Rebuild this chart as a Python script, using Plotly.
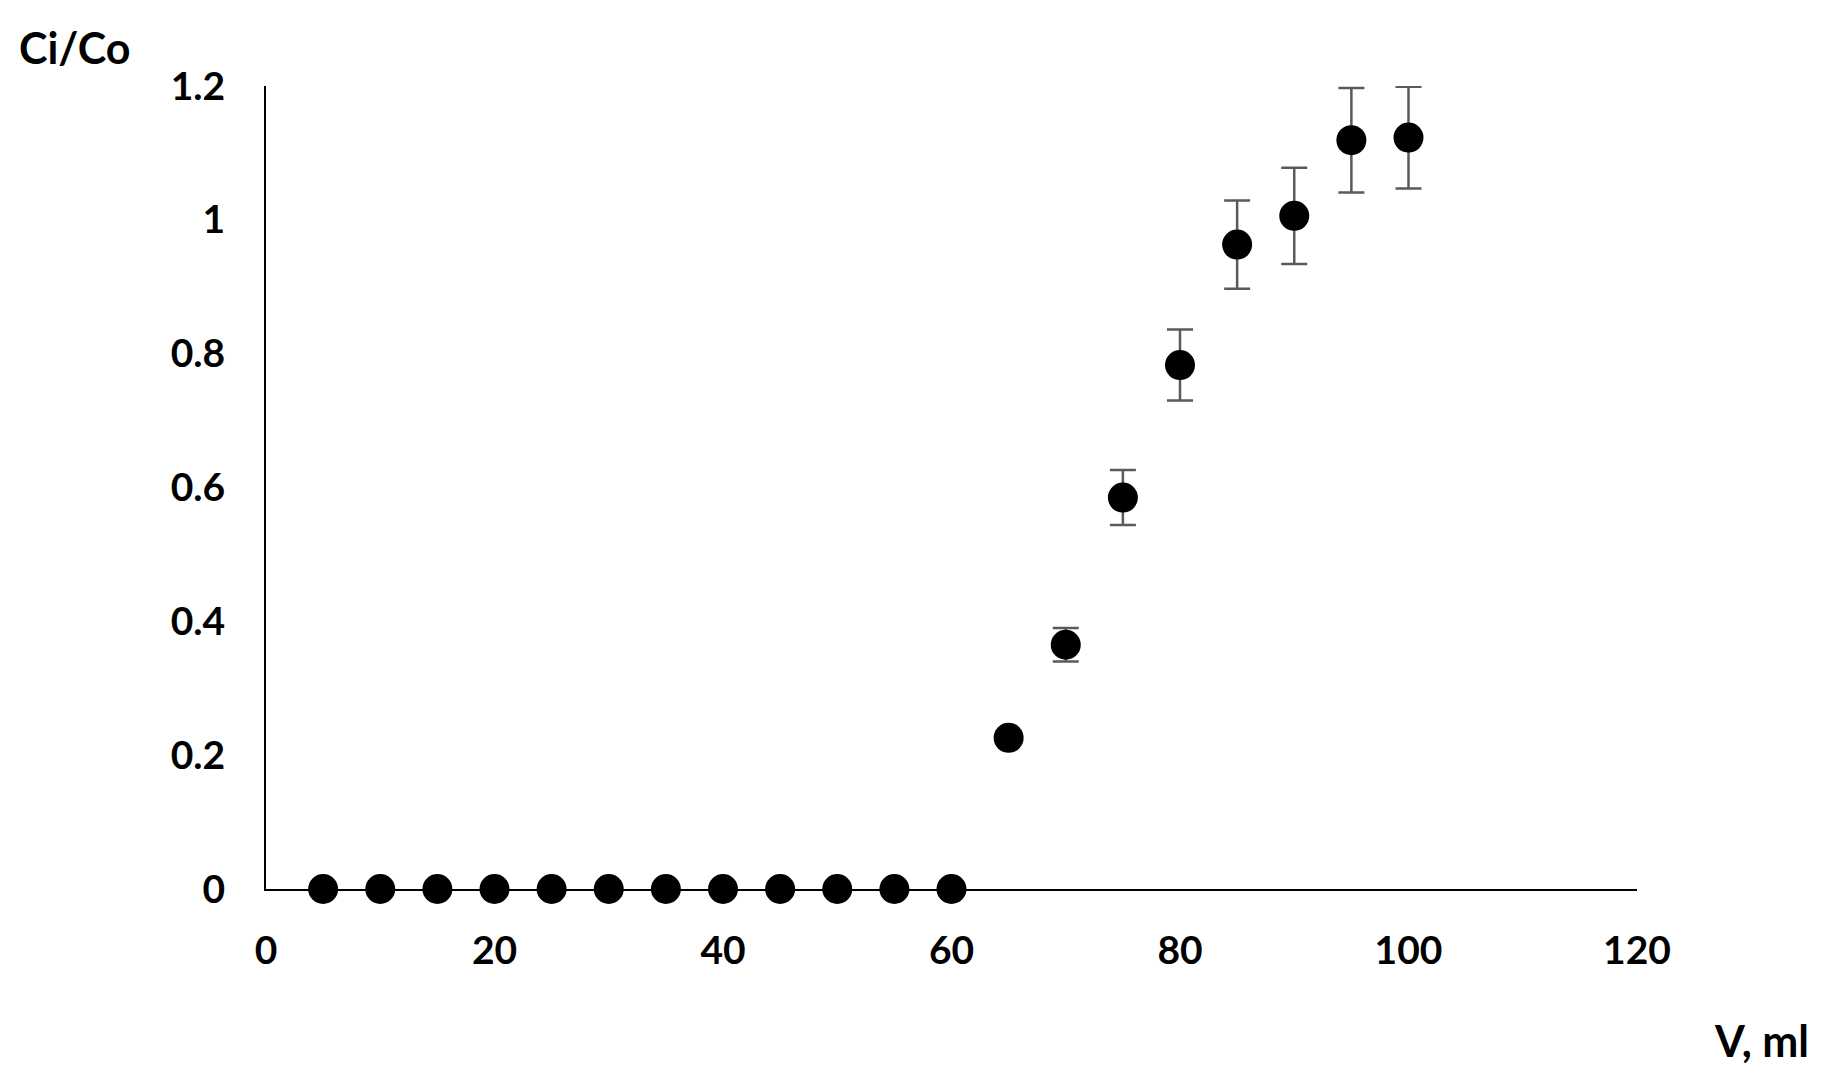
import plotly.graph_objects as go

volume_ml = [5, 10, 15, 20, 25, 30, 35, 40, 45, 50, 55, 60, 65, 70, 75, 80, 85, 90, 95, 100]
ci_co = [0, 0, 0, 0, 0, 0, 0, 0, 0, 0, 0, 0, 0.226, 0.365, 0.585, 0.783, 0.963, 1.006, 1.119, 1.123]
ci_co_err = [0, 0, 0, 0, 0, 0, 0, 0, 0, 0, 0, 0, 0.008, 0.025, 0.041, 0.053, 0.066, 0.072, 0.078, 0.076]

x_ticks = [0, 20, 40, 60, 80, 100, 120]
y_ticks = [0, 0.2, 0.4, 0.6, 0.8, 1.0, 1.2]
y_tick_text = ["0", "0.2", "0.4", "0.6", "0.8", "1", "1.2"]

font_family = "Lato, 'Open Sans', sans-serif"
FS = 39
FS_TITLE = 43

# page body has an 8px default margin
L, R, T, B = 258, 199, 78, 194
PW = 1828 - L - R
PH = 1075 - T - B

fig = go.Figure()
fig.add_trace(go.Scatter(
    x=volume_ml,
    y=ci_co,
    mode="markers",
    marker=dict(color="black", size=30),
    error_y=dict(type="data", array=ci_co_err, visible=True,
                 color="#5a5a5a", thickness=2.5, width=13),
    cliponaxis=False,
    showlegend=False,
))

fig.update_layout(
    width=1828,
    height=1075,
    paper_bgcolor="white",
    plot_bgcolor="white",
    margin=dict(l=L, r=R, t=T, b=B),
    font=dict(family=font_family, size=FS, color="black"),
    xaxis=dict(
        range=[0, 120],
        tickvals=x_ticks,
        ticktext=[str(v) for v in x_ticks],
        showgrid=False,
        zeroline=False,
        showline=True,
        linecolor="black",
        linewidth=2,
        ticks="",
        ticklabelstandoff=26,
        tickfont=dict(family=font_family, size=FS, color="black", weight="bold"),
    ),
    yaxis=dict(
        range=[0, 1.2],
        tickvals=y_ticks,
        ticktext=y_tick_text,
        showgrid=False,
        zeroline=False,
        showline=True,
        linecolor="black",
        linewidth=2,
        ticks="",
        ticklabelstandoff=31,
        tickfont=dict(family=font_family, size=FS, color="black", weight="bold"),
    ),
    annotations=[
        dict(text="<b>Ci/Co</b>", xref="paper", yref="paper",
             x=(75 - 266) / PW, y=(889 - 47) / PH, showarrow=False,
             xanchor="center", yanchor="middle",
             font=dict(family=font_family, size=FS_TITLE, color="black")),
        dict(text="<b>V, ml</b>", xref="paper", yref="paper",
             x=(1761 - 266) / PW, y=(889 - 1040) / PH, showarrow=False,
             xanchor="center", yanchor="middle",
             font=dict(family=font_family, size=FS_TITLE, color="black")),
    ],
)

fig.write_html("out.html")
